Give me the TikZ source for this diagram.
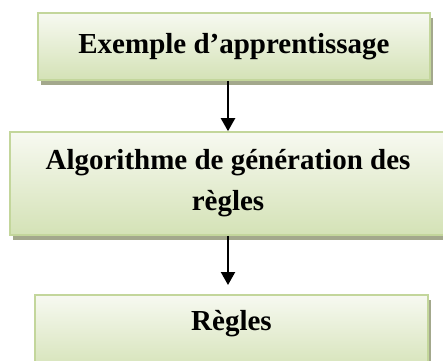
\documentclass[tikz,border=0pt]{standalone}
\usepackage{fontspec}
\setmainfont{Liberation Serif}
\usetikzlibrary{arrows.meta}
\usetikzlibrary{shadows}

\definecolor{boxline}{HTML}{C3D69B}
\definecolor{boxtop}{HTML}{F7F9F1}
\definecolor{boxbottom}{HTML}{D4E2B6}
\definecolor{shadowgray}{HTML}{A3A88C}

\tikzset{
  stepbox/.style={draw=boxline, line width=1.6pt, top color=boxtop, bottom color=boxbottom,
    drop shadow={shadow xshift=3pt, shadow yshift=-5pt, fill=shadowgray, opacity=1},
    font=\fontsize{29}{41}\selectfont\bfseries, align=center, inner sep=0pt},
  flow/.style={black, line width=2.2pt, -{Triangle[width=14pt,length=13pt]}}
}

\begin{document}
\begin{tikzpicture}[x=1pt,y=1pt]
        \useasboundingbox (0,0) rectangle (443,360);
        \node[stepbox, minimum width=392pt, minimum height=67pt] (exemple) at (234,313.5) {Exemple d’apprentissage};
        \node[stepbox, minimum width=436pt, minimum height=103pt] (algo) at (228,176.5) {Algorithme de génération des\\règles};
        \node[stepbox, minimum width=393pt, anchor=north, text height=28pt, text depth=34pt, inner ysep=8pt] (regles) at (231.5,66) {Règles};
        \draw[flow] (algo.north |- exemple.south) -- (algo.north);
        \draw[flow, shorten >=9pt] (algo.south) -- (algo.south |- regles.north);
    \end{tikzpicture}
\end{document}
